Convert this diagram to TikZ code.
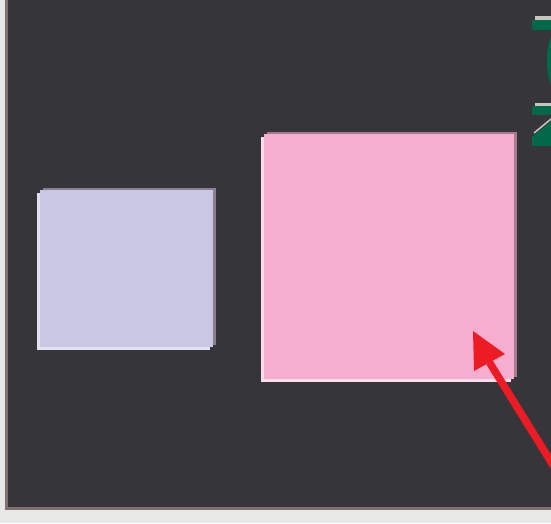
\documentclass[tikz,border=0pt]{standalone}
\definecolor{outerbg}{HTML}{E8E8E6}
\definecolor{frame}{HTML}{7E7270}
\definecolor{panel}{HTML}{36353A}
\definecolor{lav}{HTML}{C9C7E3}
\definecolor{lavshadow}{HTML}{8B8090}
\definecolor{lavlight}{HTML}{E2E1F2}
\definecolor{pinkf}{HTML}{F5AECF}
\definecolor{pinkshadow}{HTML}{A97B92}
\definecolor{pinklight}{HTML}{FCDCE8}
\definecolor{arrowred}{HTML}{ED1C24}
\definecolor{logogreen}{HTML}{00694A}
\definecolor{logogrey}{HTML}{C9C5BD}
\tikzset{
  plain/.style={draw=none, inner sep=0pt, outer sep=0pt},
  redline/.style={draw=arrowred, line width=7.5pt},
}
\begin{document}
\begin{tikzpicture}[x=1pt,y=-1pt]
\useasboundingbox (0,0) rectangle (551,523);
\clip (0,0) rectangle (551,523);
% background and frame
\fill[outerbg] (0,0) rectangle (551,523);
\fill[frame] (5,0) rectangle (551,510);
\fill[panel] (8,0) rectangle (551,507);
% lavender box
\fill[lavshadow] (43,188) rectangle (216,345);
\fill[lavlight] (37,193) rectangle (210,350);
\node[plain, fill=lav, minimum width=173pt, minimum height=157pt, anchor=north west] (lavbox) at (40,190) {};
% pink box
\fill[pinkshadow] (267,132) rectangle (517,377);
\fill[pinklight] (261,137) rectangle (511,382);
\node[plain, fill=pinkf, minimum width=250pt, minimum height=245pt, anchor=north west] (pinkbox) at (264,134) {};
% logo fragments at top right
\fill[logogrey] (535,16) rectangle (551,20);
\fill[logogreen] (532,20) rectangle (551,30);
\fill[logogreen] (557,61) ellipse [x radius=10, y radius=30];
\fill[logogrey] (535,103) rectangle (551,106);
\fill[logogreen] (532,106) rectangle (551,115);
\fill[logogreen] (533,136) -- (551,121) -- (551,136) -- cycle;
\draw[logogrey, line width=1.5pt] (534,133) -- (551,119);
\fill[logogreen] (532,136) rectangle (551,146);
% red arrow
\coordinate (tip) at (473,331);
\coordinate (headbase) at (489.5,362.5);
\coordinate (tail) at (566,486);
\draw[redline] (tail) -- (headbase);
\fill[arrowred] (tip) -- (505,354) -- (474,371) -- cycle;
\end{tikzpicture}
\end{document}
